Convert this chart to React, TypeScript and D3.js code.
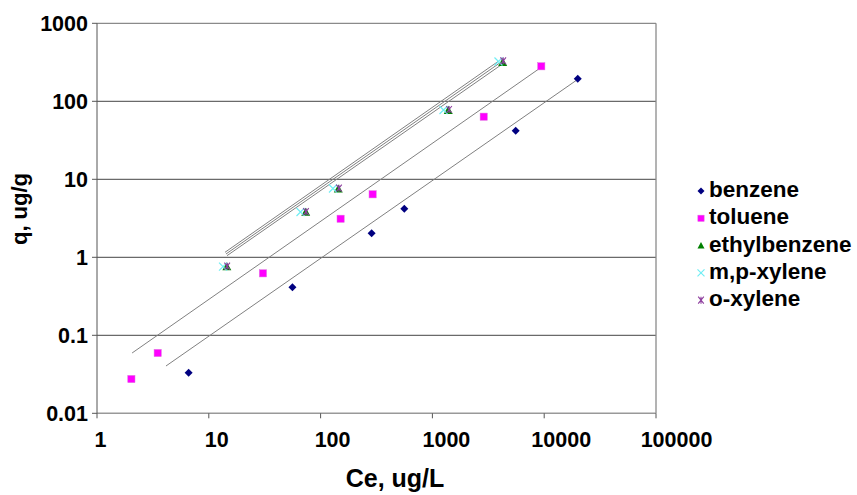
import React from "react";
import * as d3 from "d3";

// Adsorption isotherm data (Ce in ug/L, q in ug/g)
const benzeneCe = [6.6, 56, 286, 561, 5560, 19950];
const benzeneQ = [0.0332, 0.412, 2.03, 4.2, 42, 195];

const tolueneCe = [2.03, 3.49, 30.5, 151, 292, 2877, 9420];
const tolueneQ = [0.0275, 0.0593, 0.623, 3.12, 6.42, 63.5, 281];

const ethylbenzeneCe = [14.5, 73.6, 144, 1387, 4254];
const ethylbenzeneQ = [0.757, 3.78, 7.51, 76.7, 316];

const mpXyleneCe = [13.4, 66.1, 129, 1257, 3900];
const mpXyleneQ = [0.76, 3.81, 7.62, 77.3, 324];

const oXyleneCe = [14.6, 74, 146, 1410, 4300];
const oXyleneQ = [0.77, 3.85, 7.7, 78.5, 330];

// Fitted linear isotherm lines, given by their end points
const fitLines = [
  { name: "benzene", ce: [4.14, 19950], q: [0.0404, 191] },
  { name: "toluene", ce: [2.06, 8855], q: [0.0593, 257] },
  { name: "mpxylene", ce: [13.96, 3864], q: [1.159, 323.8] },
  { name: "oxylene", ce: [14.25, 4025], q: [1.102, 311.7] },
  { name: "ethylbenzene", ce: [14.55, 4193], q: [1.049, 298] },
];

const xTicks = [1, 10, 100, 1000, 10000, 100000];
const yTicks = [0.01, 0.1, 1, 10, 100, 1000];
const xTickLabels = ["1", "10", "100", "1000", "10000", "100000"];
const yTickLabels = ["0.01", "0.1", "1", "10", "100", "1000"];

const legendNames = ["benzene", "toluene", "ethylbenzene", "m,p-xylene", "o-xylene"];

type MarkerKind = "diamond" | "square" | "triangle" | "cross" | "asterisk";

const seriesList: { name: string; ce: number[]; q: number[]; kind: MarkerKind; color: string; size: number }[] = [
  { name: "benzene", ce: benzeneCe, q: benzeneQ, kind: "diamond", color: "#000080", size: 8 },
  { name: "toluene", ce: tolueneCe, q: tolueneQ, kind: "square", color: "#FF00FF", size: 8 },
  { name: "ethylbenzene", ce: ethylbenzeneCe, q: ethylbenzeneQ, kind: "triangle", color: "#008000", size: 9 },
  { name: "m,p-xylene", ce: mpXyleneCe, q: mpXyleneQ, kind: "cross", color: "#70EEF4", size: 8 },
  { name: "o-xylene", ce: oXyleneCe, q: oXyleneQ, kind: "asterisk", color: "#8E3E9E", size: 7 },
];

const FONT = "'Liberation Sans', Arial, sans-serif";
// small horizontal nudges for the category-style x labels
const xLabelNudge = [3.5, 8, 12, 14, 17, 20.5];

function Marker({ kind, color, cx, cy, s }: { kind: MarkerKind; color: string; cx: number; cy: number; s: number }) {
  const h = s / 2;
  switch (kind) {
    case "diamond":
      return <path d={`M${cx},${cy - h}L${cx + h},${cy}L${cx},${cy + h}L${cx - h},${cy}Z`} fill={color} />;
    case "square":
      return <rect x={cx - h * 0.9} y={cy - h * 0.9} width={s * 0.9} height={s * 0.9} fill={color} stroke="#e070e0" strokeWidth={0.5} />;
    case "triangle":
      return <path d={`M${cx},${cy - h}L${cx + h},${cy + h * 0.8}L${cx - h},${cy + h * 0.8}Z`} fill={color} />;
    case "cross":
      return (
        <path
          d={`M${cx - h},${cy - h}L${cx + h},${cy + h}M${cx - h},${cy + h}L${cx + h},${cy - h}`}
          stroke={color}
          strokeWidth={1.2}
          fill="none"
        />
      );
    case "asterisk":
      return (
        <path
          d={`M${cx - h * 0.8},${cy - h}L${cx + h * 0.8},${cy + h}M${cx - h * 0.8},${cy + h}L${cx + h * 0.8},${cy - h}M${cx},${cy - h}L${cx},${cy + h}`}
          stroke={color}
          strokeWidth={1.1}
          fill="none"
        />
      );
  }
}

export default function App() {
  const W = 857;
  const H = 495;
  const left = 97;
  const right = 656;
  const top = 23.3;
  const bottom = 413.3;

  const x = d3.scaleLog().domain([1, 100000]).range([left, right]);
  const y = d3.scaleLog().domain([0.01, 1000]).range([bottom, top]);

  const line = d3
    .line<[number, number]>()
    .x((d) => x(d[0]))
    .y((d) => y(d[1]));

  const legendX = 701;
  const legendY0 = 191;
  const legendStep = 27.3;

  return (
    <svg width={W} height={H} style={{ position: "absolute", left: 0, top: 0, background: "#fff" }}>
      {/* horizontal gridlines */}
      {yTicks.slice(1, -1).map((t) => (
        <line key={t} x1={left} x2={right} y1={y(t)} y2={y(t)} stroke="#6a6a6a" strokeWidth={1.3} />
      ))}
      {/* plot frame */}
      <line x1={left} x2={right} y1={top} y2={top} stroke="#8a8a8a" strokeWidth={1.3} />
      <line x1={right} x2={right} y1={top} y2={bottom} stroke="#8a8a8a" strokeWidth={1.3} />
      <line x1={left} x2={right} y1={bottom} y2={bottom} stroke="#999" strokeWidth={1.5} />
      <line x1={left} x2={left} y1={top} y2={bottom} stroke="#555" strokeWidth={1} />

      {/* y ticks and labels */}
      {yTicks.map((t, i) => (
        <g key={t}>
          <line x1={left - 5} x2={left} y1={y(t)} y2={y(t)} stroke="#555" strokeWidth={1} />
          <text
            x={left - 9}
            y={y(t) + 7.7}
            textAnchor="end"
            fontFamily={FONT}
            fontWeight="bold"
            fontSize={21.5}
            fill="#000"
          >
            {yTickLabels[i]}
          </text>
        </g>
      ))}

      {/* x ticks and labels */}
      {xTicks.map((t, i) => (
        <g key={t}>
          <line x1={x(t)} x2={x(t)} y1={bottom} y2={bottom + 5} stroke="#555" strokeWidth={1} />
          <text
            x={x(t) + xLabelNudge[i]}
            y={447}
            textAnchor="middle"
            fontFamily={FONT}
            fontWeight="bold"
            fontSize={21.5}
            fill="#000"
          >
            {xTickLabels[i]}
          </text>
        </g>
      ))}

      {/* fitted lines */}
      {fitLines.map((f) => (
        <path
          key={f.name}
          d={line(f.ce.map((c, i) => [c, f.q[i]] as [number, number])) || ""}
          fill="none"
          stroke="#808080"
          strokeWidth={1}
        />
      ))}

      {/* data points */}
      {seriesList.map((s) =>
        s.ce.map((c, i) => (
          <Marker key={s.name + i} kind={s.kind} color={s.color} cx={x(c)} cy={y(s.q[i])} s={s.size} />
        ))
      )}

      {/* axis titles */}
      <text
        x={395}
        y={487}
        textAnchor="middle"
        fontFamily={FONT}
        fontWeight="bold"
        fontSize={25}
        fill="#000"
      >
        Ce, ug/L
      </text>
      <text
        transform={`translate(27,209) rotate(-90)`}
        textAnchor="middle"
        fontFamily={FONT}
        fontWeight="bold"
        fontSize={22}
        fill="#000"
      >
        q, ug/g
      </text>

      {/* legend */}
      {legendNames.map((n, i) => {
        const s = seriesList[i];
        const cy = legendY0 + i * legendStep;
        return (
          <g key={n}>
            <Marker kind={s.kind} color={s.color} cx={legendX} cy={cy} s={7} />
            <text x={709} y={cy + 6} fontFamily={FONT} fontWeight="bold" fontSize={22.5} fill="#000">
              {n}
            </text>
          </g>
        );
      })}
    </svg>
  );
}
